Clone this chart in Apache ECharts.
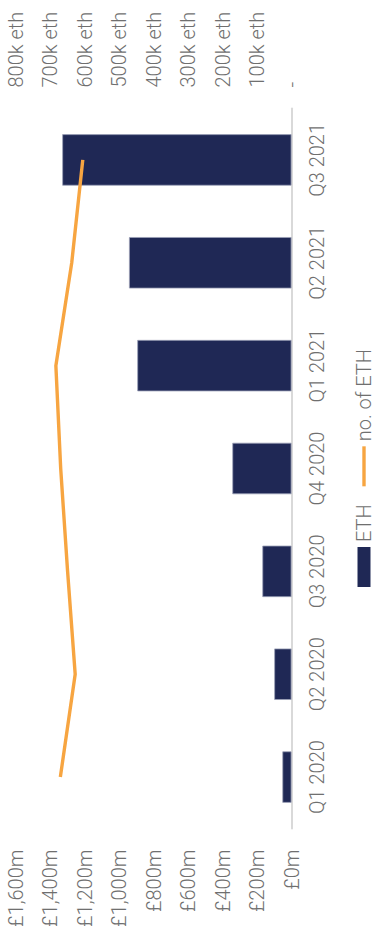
<!DOCTYPE html>
<html>
<head>
<meta charset="utf-8">
<script src="https://cdn.jsdelivr.net/npm/echarts@6/dist/echarts.min.js"></script>
<style>
  html, body { margin: 0; padding: 0; width: 376px; height: 950px; overflow: hidden; background: #fff; }
  #chart { position: absolute; left: 0; top: 0; width: 950px; height: 376px;
           transform-origin: 0 0; transform: translateY(950px) rotate(-90deg); }
</style>
</head>
<body>
<div id="chart"></div>
<script>
const categories = ['Q1 2020', 'Q2 2020', 'Q3 2020', 'Q4 2020', 'Q1 2021', 'Q2 2021', 'Q3 2021'];
const ethValueGBPm = [53, 100, 169, 343, 894, 942, 1329];
const ethCount = [670000, 627000, 649000, 669000, 683000, 637000, 605000];
const leftTicks = { min: 0, max: 1600, interval: 200 };
const rightTicks = { min: 0, max: 800000, interval: 100000 };

const FONT = 'Roboto, "Noto Sans", sans-serif';
const GREY = '#6f6f6f';
const ORANGE = '#f7a541';
const NAVY = '#1f2855';

const chart = echarts.init(document.getElementById('chart'), null, { renderer: 'svg' });
chart.setOption({
  animation: false,
  textStyle: { fontFamily: FONT, fontWeight: 300 },
  grid: { left: 121.5, right: 108.5, top: 15.5, bottom: 84.5, containLabel: false },
  legend: {
    left: 358, top: 349,
    itemGap: 18,
    itemWidth: 40, itemHeight: 13,
    symbolKeepAspect: true,
    textStyle: { fontFamily: FONT, fontSize: 20, color: GREY, fontWeight: 300 },
    data: [
      { name: 'ETH', icon: 'rect', itemStyle: { color: NAVY, borderWidth: 0 } },
      { name: 'no. of ETH', icon: 'path://M0,0H40V3.4H0Z', itemStyle: { color: ORANGE, borderWidth: 0 } }
    ]
  },
  xAxis: {
    type: 'category',
    data: categories,
    axisLine: { lineStyle: { color: '#d9d9d9', width: 2 } },
    axisTick: { show: false },
    axisLabel: { color: GREY, fontSize: 20, fontFamily: FONT, fontWeight: 300, margin: 15 }
  },
  yAxis: [
    {
      type: 'value',
      min: leftTicks.min, max: leftTicks.max, interval: leftTicks.interval,
      splitLine: { show: false },
      axisLine: { show: false }, axisTick: { show: false },
      axisLabel: {
        color: GREY, fontSize: 20, fontFamily: FONT, fontWeight: 300, margin: 21,
        formatter: v => '£' + v.toLocaleString('en-GB') + 'm'
      }
    },
    {
      type: 'value',
      min: rightTicks.min, max: rightTicks.max, interval: rightTicks.interval,
      splitLine: { show: false },
      axisLine: { show: false }, axisTick: { show: false },
      axisLabel: {
        color: GREY, fontSize: 20, fontFamily: FONT, fontWeight: 300, margin: 21,
        formatter: v => v === 0 ? '-' : (v / 1000) + 'k eth'
      }
    }
  ],
  series: [
    {
      name: 'ETH', type: 'bar', yAxisIndex: 0,
      data: ethValueGBPm,
      barWidth: '50%',
      itemStyle: { color: NAVY, borderColor: '#9aa0b6', borderWidth: 0.8 }
    },
    {
      name: 'no. of ETH', type: 'line', yAxisIndex: 1,
      data: ethCount,
      symbol: 'none',
      lineStyle: { color: ORANGE, width: 3.4 },
      itemStyle: { color: ORANGE }
    }
  ]
});
</script>
</body>
</html>
